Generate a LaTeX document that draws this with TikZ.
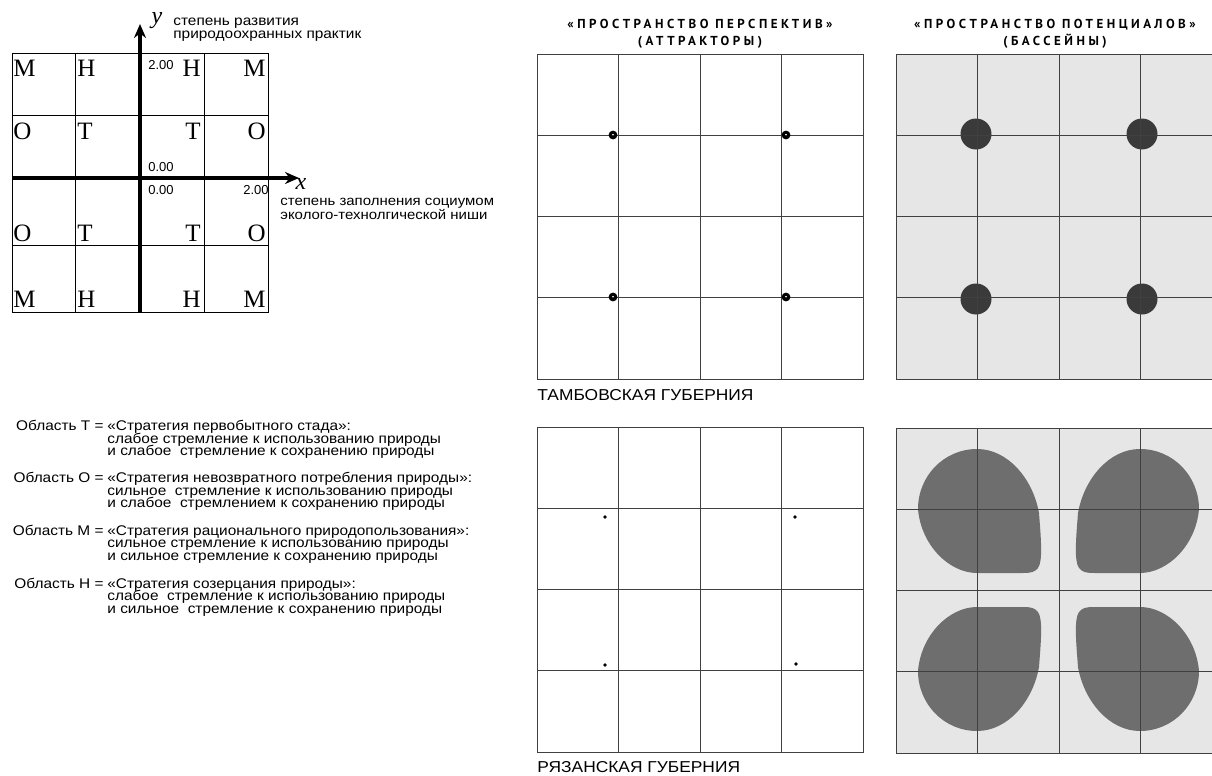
\documentclass[tikz,border=0pt]{standalone}
\usepackage{fontspec}
\setmainfont{Liberation Serif}
\setsansfont{Liberation Sans}
\newfontfamily\notefont[FakeStretch=1.1]{Liberation Sans}
\newfontfamily\headfont[LetterSpace=27]{PT Sans}
\usetikzlibrary{arrows.meta}
\lineskiplimit=-10pt

\definecolor{basin}{HTML}{E6E6E6}
\definecolor{pool}{HTML}{6E6E6E}
\definecolor{core}{HTML}{3A3A3A}

\newcommand{\basinpath}{(0,-60) .. controls (31,-60) and (56,-30) .. (62,4)
	.. controls (64,30) and (66,52) .. (61,59)
	.. controls (58,63) and (54,64) .. (46,64)
	.. controls (30,64) and (15,64) .. (0,64)
	.. controls (-28,64) and (-56,36) .. (-59,0)
	.. controls (-59,-33) and (-33,-60) .. (0,-60) -- cycle}

\tikzset{
	cell/.style={line width=0.5pt},
	axis/.style={line width=1.6pt, -{Stealth[length=7pt, width=6pt]}},
	zone/.style={font=\fontsize{12.5}{13}\selectfont, inner sep=0pt},
	tick/.style={font=\sffamily\fontsize{6.5}{7}\selectfont, inner sep=0pt},
	note/.style={font=\notefont\fontsize{7}{6.3}\selectfont, inner sep=0pt, align=left},
	head/.style={font=\headfont\bfseries\fontsize{6.5}{8.5}\selectfont, inner sep=0pt, align=center},
	region/.style={font=\notefont\fontsize{7.9}{8}\selectfont, inner sep=0pt, anchor=west},
	panel/.style={line width=0.5pt, draw=black!75},
}

\begin{document}
\begin{tikzpicture}[x=0.5pt, y=-0.5pt]
	\useasboundingbox (0,0) rectangle (1212,776);
	\clip (0,0) rectangle (1212,776);

	\draw[cell] (12,53) rectangle (268,312);
	\foreach \x in {75,204}
		\draw[cell] (\x,53) -- (\x,312);
	\foreach \y in {115,245}
		\draw[cell] (12,\y) -- (268,\y);
	\coordinate (yfoot) at (140,312);
	\coordinate (ytip) at (140,24);
	\coordinate (xfoot) at (12,178);
	\coordinate (xtip) at (299,178);
	\draw[axis] (yfoot) -- (ytip);
	\draw[axis] (xfoot) -- (xtip);

	\foreach \y/\outer/\inner [count=\r] in {68/М/Н, 131/О/Т, 233/О/Т, 299/М/Н} {
		\node[zone, anchor=west] (zl\r) at (13,\y) {\outer};
		\node[zone, anchor=west] (zm\r) at (77,\y) {\inner};
		\node[zone, anchor=east] (zn\r) at (201,\y) {\inner};
		\node[zone, anchor=east] (zr\r) at (266,\y) {\outer};
	}

	\node[tick] (ytop) at (161,65) {2.00};
	\node[tick] (yzero) at (161,167) {0.00};
	\node[tick] (xzero) at (161,190) {0.00};
	\node[tick] (xtop) at (256,190) {2.00};

	\node[font=\itshape\fontsize{12}{12}\selectfont, inner sep=0pt] (ylab) at (157,21) {y};
	\node[note, anchor=north west] (ytext) at (173,18) {степень развития\\природоохранных практик};
	\node[font=\itshape\fontsize{12}{12}\selectfont, inner sep=0pt] (xlab) at (301,184) {x};
	\node[note, anchor=north west, font=\notefont\fontsize{6.8}{7}\selectfont] (xtext) at (280,198) {степень заполнения социумом\\эколого-технолгической ниши};

	\node[note, anchor=north east] (keyT) at (104,420) {Область Т =};
	\node[note, anchor=north west] (textT) at (107,420) {«Стратегия первобытного стада»:\\слабое стремление к использованию природы\\и слабое~ стремление к сохранению природы};
	\node[note, anchor=north east] (keyO) at (104,472) {Область О =};
	\node[note, anchor=north west] (textO) at (107,472) {«Стратегия невозвратного потребления природы»:\\сильное~ стремление к использованию природы\\и слабое~ стремлением к сохранению природы};
	\node[note, anchor=north east] (keyM) at (104,525) {Область М =};
	\node[note, anchor=north west] (textM) at (107,525) {«Стратегия рационального природопользования»:\\сильное стремление к использованию природы\\и сильное стремление к сохранению природы};
	\node[note, anchor=north east] (keyH) at (104,578) {Область Н =};
	\node[note, anchor=north west] (textH) at (107,578) {«Стратегия созерцания природы»:\\слабое~ стремление к использованию природы\\и сильное~ стремление к сохранению природы};

	\node[head, anchor=north] (perspective) at (700,19) {«ПРОСТРАНСТВО ПЕРСПЕКТИВ»\\(АТТРАКТОРЫ)};
	\node[head, anchor=north] (potential) at (1055,19) {«ПРОСТРАНСТВО ПОТЕНЦИАЛОВ»\\(БАССЕЙНЫ)};
	\node[region] (tambov) at (537,395) {ТАМБОВСКАЯ ГУБЕРНИЯ};
	\node[region] (ryazan) at (537,767) {РЯЗАНСКАЯ ГУБЕРНИЯ};

	\fill[basin] (896,54) rectangle (1222,379);
	\fill[basin] (896,428) rectangle (1222,753);
	\foreach \cx/\cy in {976/134, 1142/134, 976/299, 1142/299}
		\fill[core] (\cx,\cy) circle (15.5);
	\foreach \cx/\cy/\sx/\sy in {977/509/1/1, 1140/509/-1/1, 977/671/1/-1, 1140/671/-1/-1}
		\fill[pool, shift={(\cx,\cy)}, xscale=\sx, yscale=\sy] \basinpath;

	\foreach \px/\py in {537/54, 896/54, 537/427, 896/428} {
		\draw[panel] (\px,\py) rectangle ++(326,325);
		\foreach \k in {1,2,3} {
			\draw[panel] (\px+\k*81.5,\py) -- ++(0,325);
			\draw[panel] (\px,\py+\k*81.25) -- ++(326,0);
		}
	}

	\foreach \cx/\cy in {613/135, 786/135, 613/297, 786/297}
		\draw[line width=1.5pt] (\cx,\cy) circle (2.8);
	\foreach \cx/\cy in {605/517, 795/517, 605/665, 796/664}
		\fill (\cx,\cy) circle (1.8);
\end{tikzpicture}
\end{document}
